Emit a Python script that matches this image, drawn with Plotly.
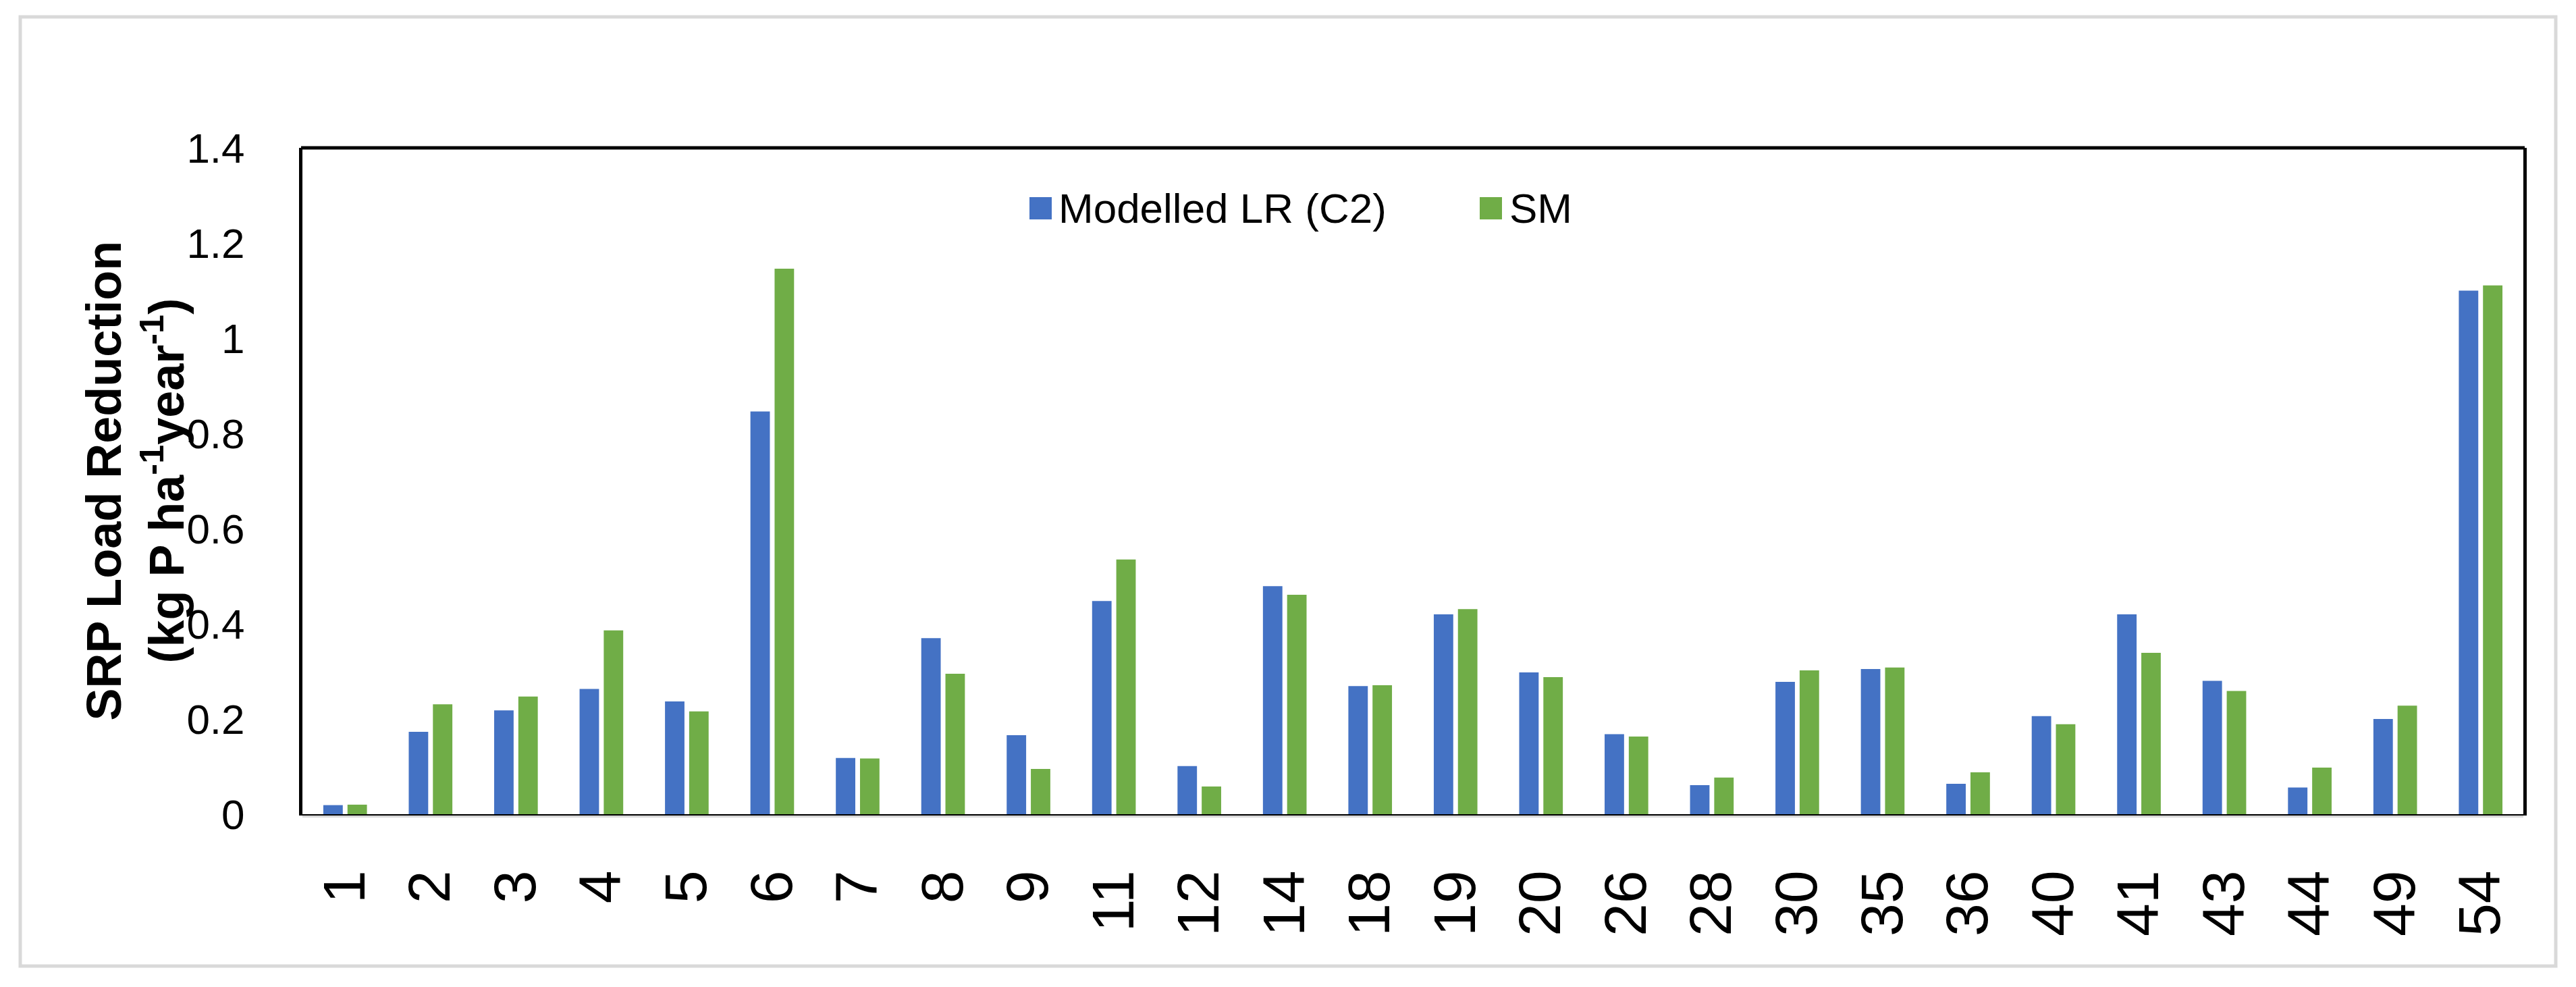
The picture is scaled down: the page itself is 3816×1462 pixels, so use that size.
import plotly.graph_objects as go

categories = ["1", "2", "3", "4", "5", "6", "7", "8", "9", "11", "12", "14", "18",
              "19", "20", "26", "28", "30", "35", "36", "40", "41", "43", "44", "49", "54"]
modelled_lr = [0.019, 0.173, 0.218, 0.263, 0.237, 0.846, 0.118, 0.370, 0.166, 0.448,
               0.101, 0.479, 0.269, 0.420, 0.298, 0.168, 0.061, 0.278, 0.305, 0.064,
               0.206, 0.420, 0.280, 0.056, 0.200, 1.100]
sm = [0.020, 0.231, 0.247, 0.386, 0.216, 1.146, 0.117, 0.295, 0.095, 0.535,
      0.058, 0.461, 0.271, 0.431, 0.288, 0.163, 0.077, 0.302, 0.308, 0.088,
      0.189, 0.339, 0.259, 0.098, 0.228, 1.111]
series_names = ["Modelled LR (C2)", "SM"]
y_ticks = [0, 0.2, 0.4, 0.6, 0.8, 1.0, 1.2, 1.4]
y_tick_labels = ["0", "0.2", "0.4", "0.6", "0.8", "1", "1.2", "1.4"]

BLUE = "#4472C4"
GREEN = "#70AD47"
FONT = "Arial, Liberation Sans, sans-serif"

W, H = 3816, 1462
L, R, T, B = 448, 3738, 219, 1206
PW, PH = R - L, B - T


def px(x):
    return (x - L) / PW


def py(y):
    return (B - y) / PH


fig = go.Figure()
fig.add_trace(go.Bar(x=categories, y=modelled_lr, name=series_names[0],
                     marker=dict(color=BLUE, line=dict(width=0)), showlegend=False))
fig.add_trace(go.Bar(x=categories, y=sm, name=series_names[1],
                     marker=dict(color=GREEN, line=dict(width=0)), showlegend=False))

shapes = [
    # outer light-gray frame
    dict(type="rect", xref="paper", yref="paper", x0=px(30), x1=px(3786), y0=py(1431), y1=py(25),
         line=dict(color="#D9D9D9", width=5), layer="below"),
    # top frame line
    dict(type="line", xref="paper", yref="paper", x0=px(L - 2), x1=px(R + 2), y0=py(T), y1=py(T),
         line=dict(color="black", width=5)),
    # gray line under x axis
    dict(type="line", xref="paper", yref="paper", x0=0, x1=1, y0=py(B + 3.5), y1=py(B + 3.5),
         line=dict(color="#D9D9D9", width=3)),
    # legend squares
    dict(type="rect", xref="paper", yref="paper", x0=px(1525), x1=px(1558), y0=py(325), y1=py(292),
         fillcolor=BLUE, line=dict(width=0)),
    dict(type="rect", xref="paper", yref="paper", x0=px(2192), x1=px(2225), y0=py(325), y1=py(292),
         fillcolor=GREEN, line=dict(width=0)),
]

annotations = [
    dict(text=series_names[0], xref="paper", yref="paper", x=px(1566), y=py(308),
         xanchor="left", yanchor="middle", showarrow=False,
         font=dict(family=FONT, size=62, color="black")),
    dict(text=series_names[1], xref="paper", yref="paper", x=px(2234), y=py(308),
         xanchor="left", yanchor="middle", showarrow=False,
         font=dict(family=FONT, size=62, color="black")),
    dict(text="<b>SRP Load Reduction<br>(kg P ha<sup>-1</sup>year<sup>-1</sup>)</b>",
         xref="paper", yref="paper", x=px(200), y=0.5, xanchor="center", yanchor="middle",
         textangle=-90, showarrow=False,
         font=dict(family=FONT, size=72, color="black")),
]

fig.update_layout(
    width=W, height=H,
    margin=dict(l=L, r=W - R, t=T, b=H - B, pad=0),
    paper_bgcolor="white", plot_bgcolor="white",
    barmode="group", bargap=0.434, bargroupgap=0.195,
    font=dict(family=FONT, color="black"),
    shapes=shapes, annotations=annotations,
    showlegend=False,
    xaxis=dict(type="category", categoryorder="array", categoryarray=categories,
               tickangle=-90, tickfont=dict(size=88, family=FONT, color="black"),
               showline=True, linecolor="black", linewidth=2, mirror=False,
               showgrid=False, zeroline=False, ticks="", ticklabelstandoff=46),
    yaxis=dict(range=[0, 1.4], tickvals=y_ticks, ticktext=y_tick_labels,
               tickfont=dict(size=62, family=FONT, color="black"),
               showline=True, linecolor="black", linewidth=5, mirror=True,
               showgrid=False, zeroline=False, ticks="", ticklabelstandoff=68),
)

fig.write_html("out.html", config={"displayModeBar": False},
               post_script="document.body.style.margin='0';")
